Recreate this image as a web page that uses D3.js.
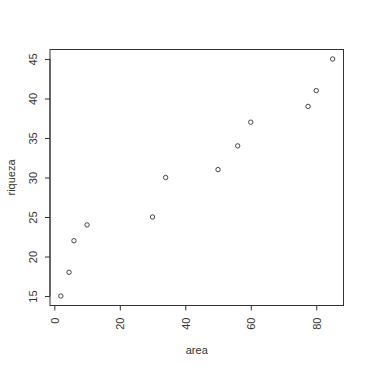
<!DOCTYPE html>
<html>
<head>
<meta charset="utf-8">
<script src="https://cdn.jsdelivr.net/npm/d3@7"></script>
<style>
  html, body { margin: 0; padding: 0; background: #fff; }
  svg { display: block; }
</style>
</head>
<body>
<div id="chart"></div>
<script>
// datos
const area    = [2, 4.5, 6, 10, 30, 34, 50, 56, 60, 77.5, 80, 85];
const riqueza = [15, 18, 22, 24, 25, 30, 31, 34, 37, 39, 41, 45];
const xTicks  = [0, 20, 40, 60, 80];
const yTicks  = [15, 20, 25, 30, 35, 40, 45];
const xLabel  = 'area';
const yLabel  = 'riqueza';

const W = 369, H = 368;
const margin = { top: 49.5, right: 25.5, bottom: 62.5, left: 50 };
const ink = '#333';

// dominio como en R: rango de los datos ampliado un 4 %
const pad = ext => {
    const d = (ext[1] - ext[0]) * 0.04;
    return [ext[0] - d, ext[1] + d];
};

const x = d3.scaleLinear()
    .domain(pad(d3.extent(area)))
    .range([margin.left, W - margin.right]);
const y = d3.scaleLinear()
    .domain(pad(d3.extent(riqueza)))
    .range([H - margin.bottom, margin.top]);

const svg = d3.select('#chart').append('svg')
    .attr('width', W)
    .attr('height', H)
    .style('font-family', 'Arial, "Liberation Sans", sans-serif');

// ── ejes ──────────────────────────────────────────────────────────────
const xAxis = svg.append('g')
    .attr('transform', `translate(0,${H - margin.bottom})`)
    .call(d3.axisBottom(x).tickValues(xTicks).tickSize(5).tickFormat(d3.format('d')));
xAxis.select('.domain')
    .attr('d', `M${x(xTicks[0])},0H${x(xTicks[xTicks.length - 1])}`);
xAxis.selectAll('text')
    .attr('transform', 'rotate(-90)')
    .attr('x', -12)
    .attr('y', 0)
    .attr('dy', '0.35em')
    .attr('text-anchor', 'end');

const yAxis = svg.append('g')
    .attr('transform', `translate(${margin.left},0)`)
    .call(d3.axisLeft(y).tickValues(yTicks).tickSize(5).tickFormat(d3.format('d')));
yAxis.select('.domain')
    .attr('d', `M0,${y(yTicks[0])}V${y(yTicks[yTicks.length - 1])}`);
yAxis.selectAll('text')
    .attr('transform', 'rotate(-90)')
    .attr('x', 0)
    .attr('y', -13)
    .attr('dy', 0)
    .attr('text-anchor', 'middle');

svg.selectAll('.domain, .tick line').attr('stroke', ink);
svg.selectAll('.tick text')
    .attr('fill', ink)
    .attr('font-size', 11);

// ── caja ──────────────────────────────────────────────────────────────
svg.append('rect')
    .attr('x', margin.left)
    .attr('y', margin.top)
    .attr('width', W - margin.left - margin.right)
    .attr('height', H - margin.top - margin.bottom)
    .attr('fill', 'none')
    .attr('stroke', ink);

// ── puntos ────────────────────────────────────────────────────────────
svg.append('g')
    .selectAll('circle')
    .data(area.map((a, i) => ({ a, r: riqueza[i] })))
    .join('circle')
    .attr('cx', d => x(d.a))
    .attr('cy', d => y(d.r))
    .attr('r', 2.2)
    .attr('fill', 'none')
    .attr('stroke', ink)
    .attr('stroke-width', 0.9);

// ── títulos de ejes ───────────────────────────────────────────────────
svg.append('text')
    .attr('x', (margin.left + W - margin.right) / 2)
    .attr('y', 354)
    .attr('text-anchor', 'middle')
    .attr('font-size', 11)
    .attr('fill', ink)
    .text(xLabel);

svg.append('text')
    .attr('transform', `translate(15,${(margin.top + H - margin.bottom) / 2}) rotate(-90)`)
    .attr('text-anchor', 'middle')
    .attr('font-size', 11)
    .attr('fill', ink)
    .text(yLabel);
</script>
</body>
</html>
